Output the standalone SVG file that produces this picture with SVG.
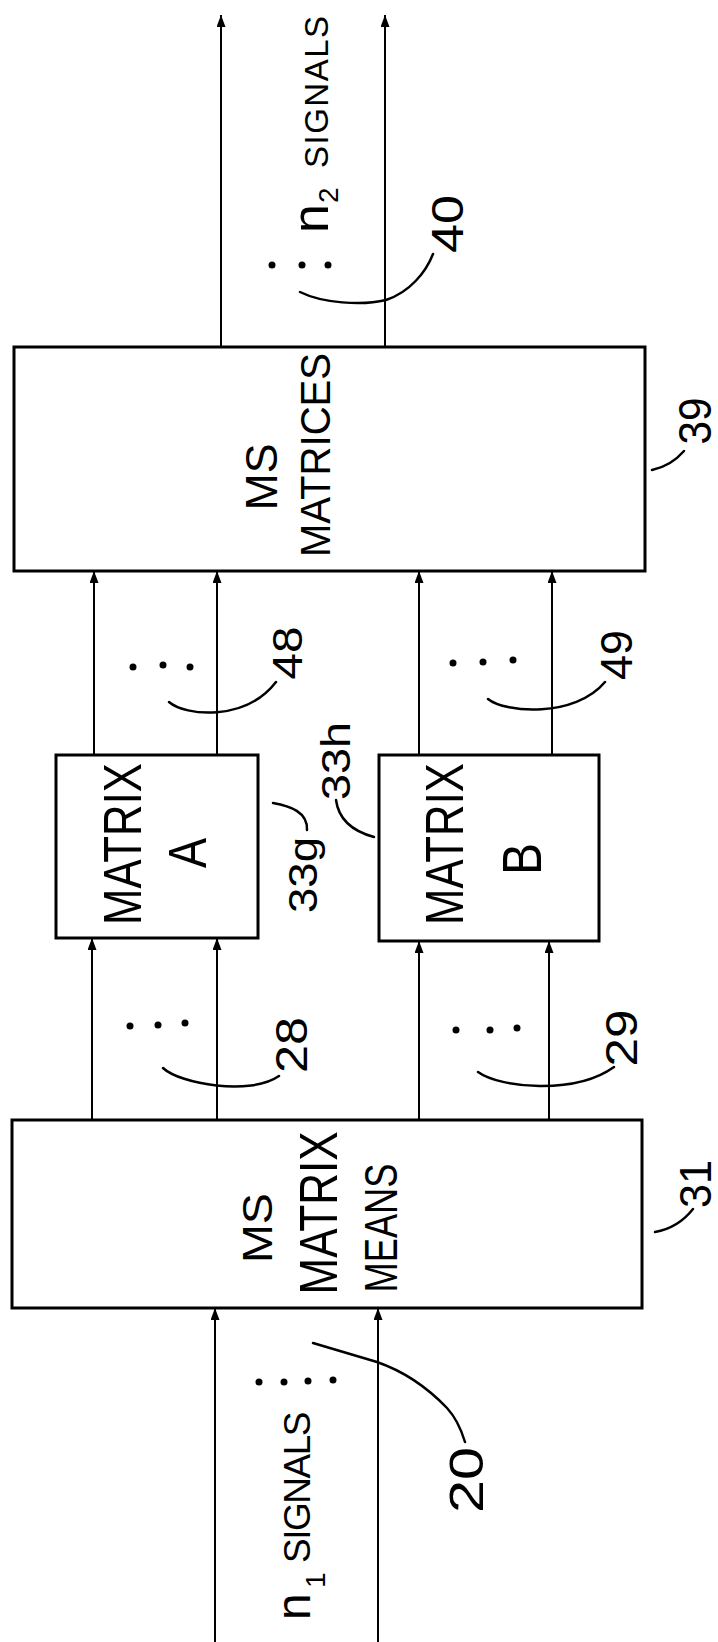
<svg xmlns="http://www.w3.org/2000/svg" width="718" height="1642" viewBox="0 0 718 1642">
<defs>
<style>
.box{fill:#fff;stroke:#000;stroke-width:3}
.wire{fill:none;stroke:#000;stroke-width:2}
.lead{fill:none;stroke:#000;stroke-width:2.5;stroke-linecap:round}
.dot{fill:#000}
text{font-family:"Liberation Sans","DejaVu Sans",sans-serif;fill:#000}
.mid{text-anchor:middle}
</style>
<marker id="arr" markerUnits="userSpaceOnUse" markerWidth="14" markerHeight="10" refX="12" refY="4.5" orient="auto">
<path d="M0,0 L12,4.5 L0,9 z" fill="#000"/>
</marker>
</defs>
<rect width="718" height="1642" fill="#fff"/>

<g id="connectors">
<line class="wire" x1="221" y1="347" x2="221" y2="15" marker-end="url(#arr)"/>
<line class="wire" x1="385" y1="347" x2="385" y2="15" marker-end="url(#arr)"/>
<line class="wire" x1="94" y1="755" x2="94" y2="571" marker-end="url(#arr)"/>
<line class="wire" x1="217" y1="755" x2="217" y2="571" marker-end="url(#arr)"/>
<line class="wire" x1="419" y1="755" x2="419" y2="571" marker-end="url(#arr)"/>
<line class="wire" x1="552" y1="755" x2="552" y2="571" marker-end="url(#arr)"/>
<line class="wire" x1="92" y1="1120" x2="92" y2="938" marker-end="url(#arr)"/>
<line class="wire" x1="217" y1="1120" x2="217" y2="938" marker-end="url(#arr)"/>
<line class="wire" x1="419" y1="1120" x2="419" y2="941" marker-end="url(#arr)"/>
<line class="wire" x1="549" y1="1120" x2="549" y2="941" marker-end="url(#arr)"/>
<line class="wire" x1="215" y1="1642" x2="215" y2="1308" marker-end="url(#arr)"/>
<line class="wire" x1="378" y1="1642" x2="378" y2="1308" marker-end="url(#arr)"/>
</g>

<g id="node-39">
<rect class="box" x="14" y="347" width="631" height="224"/>
<text class="mid" font-size="44" textLength="67" lengthAdjust="spacingAndGlyphs" transform="translate(277,477) rotate(-90)">MS</text>
<text class="mid" font-size="42" textLength="204" lengthAdjust="spacingAndGlyphs" transform="translate(330,455) rotate(-90)">MATRICES</text>
</g>

<g id="node-matrix-a">
<rect class="box" x="56" y="755" width="202" height="183"/>
<text class="mid" font-size="54" textLength="162" lengthAdjust="spacingAndGlyphs" transform="translate(141,844) rotate(-90)">MATRIX</text>
<text class="mid" font-size="54" textLength="30" lengthAdjust="spacingAndGlyphs" transform="translate(206,853) rotate(-90)">A</text>
</g>

<g id="node-matrix-b">
<rect class="box" x="379" y="755" width="220" height="186"/>
<text class="mid" font-size="54" textLength="162" lengthAdjust="spacingAndGlyphs" transform="translate(463,844) rotate(-90)">MATRIX</text>
<text class="mid" font-size="56" textLength="32" lengthAdjust="spacingAndGlyphs" transform="translate(541,859) rotate(-90)">B</text>
</g>

<g id="node-31">
<rect class="box" x="12" y="1120" width="630" height="188"/>
<text class="mid" font-size="42" textLength="70" lengthAdjust="spacingAndGlyphs" transform="translate(272,1228) rotate(-90)">MS</text>
<text class="mid" font-size="54" textLength="163" lengthAdjust="spacingAndGlyphs" transform="translate(337,1213) rotate(-90)">MATRIX</text>
<text class="mid" font-size="46" textLength="129" lengthAdjust="spacingAndGlyphs" transform="translate(397,1228) rotate(-90)">MEANS</text>
</g>

<g id="labels">
<text transform="translate(328,233) rotate(-90)"><tspan font-size="52">n</tspan><tspan x="30" dy="10" font-size="28">2</tspan><tspan x="65" dy="-10" font-size="33" letter-spacing="1.5">SIGNALS</tspan></text>
<text transform="translate(310,1620) rotate(-90)"><tspan font-size="48">n</tspan><tspan x="32" dy="15" font-size="28">1</tspan><tspan x="57" dy="-15" font-size="37" letter-spacing="-1.5">SIGNALS</tspan></text>

<text class="mid" font-size="44" textLength="58" lengthAdjust="spacingAndGlyphs" transform="translate(463,224) rotate(-90)">40</text>
<text class="mid" font-size="46" textLength="47" lengthAdjust="spacingAndGlyphs" transform="translate(711,421) rotate(-90)">39</text>
<text class="mid" font-size="42" textLength="53" lengthAdjust="spacingAndGlyphs" transform="translate(302,653) rotate(-90)">48</text>
<text class="mid" font-size="44" textLength="50" lengthAdjust="spacingAndGlyphs" transform="translate(632,655) rotate(-90)">49</text>
<text class="mid" font-size="40" textLength="78" lengthAdjust="spacingAndGlyphs" transform="translate(350,761) rotate(-90)">33h</text>
<text class="mid" font-size="40" textLength="76" lengthAdjust="spacingAndGlyphs" transform="translate(317,875) rotate(-90)">33g</text>
<text class="mid" font-size="44" textLength="56" lengthAdjust="spacingAndGlyphs" transform="translate(307,1045) rotate(-90)">28</text>
<text class="mid" font-size="44" textLength="57" lengthAdjust="spacingAndGlyphs" transform="translate(637,1038) rotate(-90)">29</text>
<text class="mid" font-size="44" textLength="48" lengthAdjust="spacingAndGlyphs" transform="translate(711,1184) rotate(-90)">31</text>
<text class="mid" font-size="48" textLength="66" lengthAdjust="spacingAndGlyphs" transform="translate(483,1480) rotate(-90)">20</text>

<path class="lead" d="M300,292 C322,303 362,306 386,300 C410,292 426,272 433,254"/>
<path class="lead" d="M684,451 Q671,466 652,470"/>
<path class="lead" d="M169,702 C185,716 245,722 276,682"/>
<path class="lead" d="M488,699 C505,713 575,718 605,682"/>
<path class="lead" d="M336,800 C338,815 348,830 374,837"/>
<path class="lead" d="M273,803 C290,806 308,812 307,830"/>
<path class="lead" d="M163,1068 C180,1084 250,1096 279,1076"/>
<path class="lead" d="M478,1072 C500,1088 575,1095 614,1067"/>
<path class="lead" d="M693,1209 Q678,1228 655,1232"/>
<path class="lead" d="M313,1343 L377,1362 C400,1370 425,1385 447,1408 C458,1420 462,1432 465,1442"/>

<circle class="dot" cx="272" cy="265" r="3.5"/><circle class="dot" cx="302" cy="265" r="3.5"/><circle class="dot" cx="328" cy="265" r="3.5"/>
<circle class="dot" cx="133" cy="667" r="3.5"/><circle class="dot" cx="163" cy="665" r="3.5"/><circle class="dot" cx="190" cy="667" r="3.5"/>
<circle class="dot" cx="453" cy="663" r="3.5"/><circle class="dot" cx="483" cy="662" r="3.5"/><circle class="dot" cx="513" cy="660" r="3.5"/>
<circle class="dot" cx="130" cy="1026" r="3.5"/><circle class="dot" cx="158" cy="1025" r="3.5"/><circle class="dot" cx="185" cy="1023" r="3.5"/>
<circle class="dot" cx="456" cy="1030" r="3.5"/><circle class="dot" cx="490" cy="1030" r="3.5"/><circle class="dot" cx="517" cy="1028" r="3.5"/>
<circle class="dot" cx="259" cy="1382" r="3.5"/><circle class="dot" cx="284" cy="1382" r="3.5"/><circle class="dot" cx="308" cy="1381" r="3.5"/><circle class="dot" cx="333" cy="1380" r="3.5"/>
</g>
</svg>
